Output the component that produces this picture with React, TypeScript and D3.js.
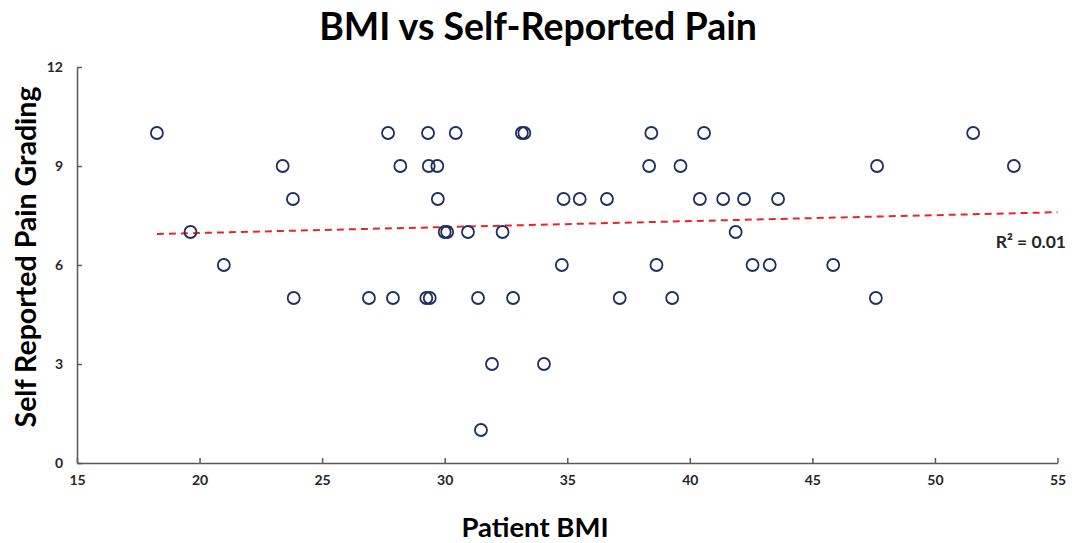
import React, { useEffect, useRef } from "react";
import * as d3 from "d3";

// Patient BMI and pain grade
const bmiValues = [
  18.26, 27.69, 29.32, 30.45, 33.15, 33.25, 38.43, 40.58, 51.56,
  23.39, 28.19, 29.35, 29.7, 38.34, 39.62, 47.64, 53.22,
  23.81, 29.72, 34.85, 35.51, 36.62, 40.41, 41.36, 42.21, 43.6,
  19.63, 30.0, 30.1, 30.95, 32.36, 41.87,
  20.99, 34.78, 38.64, 42.56, 43.26, 45.85,
  23.84, 26.91, 27.89, 29.25, 29.39, 31.36, 32.79, 37.14, 39.28, 47.59,
  31.93, 34.05,
  31.48,
];
const painValues = [
  10, 10, 10, 10, 10, 10, 10, 10, 10,
  9, 9, 9, 9, 9, 9, 9, 9,
  8, 8, 8, 8, 8, 8, 8, 8, 8,
  7, 7, 7, 7, 7, 7,
  6, 6, 6, 6, 6, 6,
  5, 5, 5, 5, 5, 5, 5, 5, 5, 5,
  3, 3,
  1,
];

const xTicks = [15, 20, 25, 30, 35, 40, 45, 50, 55];
const yTicks = [0, 3, 6, 9, 12];

// linear trendline as shown (Excel style)
const trendSlope = 0.018;
const trendIntercept = 6.61;
const rSquaredLabel = "R² = 0.01";

const App: React.FC = () => {
  const svgRef = useRef<SVGSVGElement | null>(null);

  useEffect(() => {
    const width = 1072;
    const height = 543;
    const margin = { top: 67, right: 14, bottom: 80, left: 77 };
    const font = "Lato, 'Open Sans', sans-serif";

    const svg = d3.select(svgRef.current);
    svg.selectAll("*").remove();

    const xScale = d3
      .scaleLinear()
      .domain([15, 55])
      .range([margin.left, width - margin.right - 0.5]);
    const yScale = d3
      .scaleLinear()
      .domain([0, 12])
      .range([height - margin.bottom, margin.top]);

    // title
    svg
      .append("text")
      .attr("x", 538)
      .attr("y", 40)
      .attr("text-anchor", "middle")
      .style("font-family", font)
      .style("font-weight", "bold")
      .style("font-size", "37.5px")
      .style("fill", "#000")
      .text("BMI vs Self-Reported Pain");

    // x axis
    const xAxis = svg
      .append("g")
      .attr("transform", `translate(0, ${yScale(0)})`)
      .call(d3.axisBottom(xScale).tickValues(xTicks).tickSizeInner(-5).tickSizeOuter(0).tickPadding(12));
    xAxis.select(".domain").attr("stroke", "#595959").attr("stroke-width", 1.5);
    xAxis.selectAll(".tick line").attr("stroke", "#595959").attr("stroke-width", 1.5);
    xAxis
      .selectAll("text")
      .style("font-family", font)
      .style("font-weight", "bold")
      .style("font-size", "14px")
      .style("fill", "#262626");

    // y axis
    const yAxis = svg
      .append("g")
      .attr("transform", `translate(${xScale(15)},0)`)
      .call(d3.axisLeft(yScale).tickValues(yTicks).tickSizeInner(-5).tickSizeOuter(0).tickPadding(14));
    yAxis.select(".domain").attr("stroke", "#595959").attr("stroke-width", 1.5);
    yAxis.selectAll(".tick line").attr("stroke", "#595959").attr("stroke-width", 1.5);
    yAxis
      .selectAll("text")
      .style("font-family", font)
      .style("font-weight", "bold")
      .style("font-size", "14px")
      .style("fill", "#262626");

    // trendline from smallest BMI out to the axis end
    const xMin = d3.min(bmiValues)!;
    const trend = [xMin, 55].map((x) => [x, trendIntercept + trendSlope * x] as [number, number]);
    svg
      .append("path")
      .attr(
        "d",
        d3
          .line<[number, number]>()
          .x((d) => xScale(d[0]))
          .y((d) => yScale(d[1]))(trend)!
      )
      .attr("fill", "none")
      .attr("stroke", "#e3262a")
      .attr("stroke-width", 2)
      .attr("stroke-dasharray", "7,5");

    // points
    svg
      .append("g")
      .selectAll("circle")
      .data(bmiValues.map((b, i) => ({ bmi: b, pain: painValues[i] })))
      .enter()
      .append("circle")
      .attr("cx", (d) => xScale(d.bmi))
      .attr("cy", (d) => yScale(d.pain))
      .attr("r", 6)
      .attr("fill", "none")
      .attr("stroke", "#1f2f5e")
      .attr("stroke-width", 1.8);

    // R squared label
    svg
      .append("text")
      .attr("x", 1066)
      .attr("y", 248)
      .attr("text-anchor", "end")
      .style("font-family", font)
      .style("font-weight", "bold")
      .style("font-size", "17.5px")
      .style("fill", "#262626")
      .text(rSquaredLabel);

    // axis titles
    svg
      .append("text")
      .attr("x", 535)
      .attr("y", 537)
      .attr("text-anchor", "middle")
      .style("font-family", font)
      .style("font-weight", "bold")
      .style("font-size", "27.5px")
      .style("fill", "#000")
      .text("Patient BMI");

    svg
      .append("text")
      .attr("transform", "rotate(-90)")
      .attr("x", -257)
      .attr("y", 36)
      .attr("text-anchor", "middle")
      .style("font-family", font)
      .style("font-weight", "bold")
      .style("font-size", "28.5px")
      .style("fill", "#000")
      .text("Self Reported Pain Grading");
  }, []);

  return (
    <svg
      ref={svgRef}
      width={1072}
      height={543}
      style={{ position: "absolute", left: 0, top: 0, background: "#fff" }}
    ></svg>
  );
};

export default App;
